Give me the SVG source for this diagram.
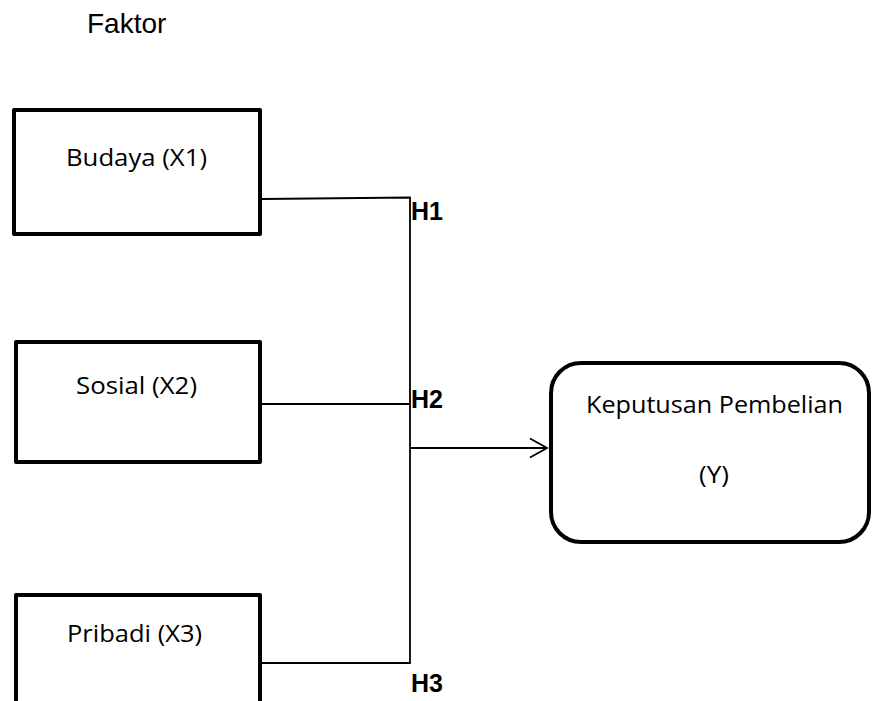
<svg xmlns="http://www.w3.org/2000/svg" width="872" height="701" viewBox="0 0 872 701">
<style>
.box{fill:#fff;stroke:#000;stroke-width:4;stroke-linejoin:round}
.lbl{font-family:"Open Sans","Noto Sans",sans-serif;font-size:23px;fill:#000}
.h{font-family:"Liberation Sans",Arial,sans-serif;font-size:25px;font-weight:bold;fill:#000}
.con{stroke:#000;stroke-width:1.8;fill:none}
</style>
<defs>
<marker id="arr" markerWidth="20" markerHeight="22" refX="18" refY="11" orient="auto" markerUnits="userSpaceOnUse">
<path d="M1,1.5 L18,11 L1,20.5" fill="none" stroke="#000" stroke-width="1.8"/>
</marker>
</defs>
<rect width="872" height="701" fill="#fff"/>
<text x="87" y="33" font-family="Liberation Sans, Arial, sans-serif" font-size="28" fill="#000">Faktor</text>
<g id="connectors">
<polyline class="con" points="262,199 410,197.5 410,664"/>
<line class="con" x1="262" y1="404" x2="410" y2="404"/>
<line class="con" x1="262" y1="663" x2="410" y2="663"/>
<line class="con" x1="410" y1="448" x2="547" y2="448" marker-end="url(#arr)"/>
</g>
<g id="budaya">
<rect class="box" x="14" y="110" width="246" height="124"/>
<text class="lbl" x="66" y="166" textLength="141" lengthAdjust="spacingAndGlyphs">Budaya (X1)</text>
</g>
<g id="sosial">
<rect class="box" x="16" y="342" width="244" height="120"/>
<text class="lbl" x="76" y="394" textLength="121" lengthAdjust="spacingAndGlyphs">Sosial (X2)</text>
</g>
<g id="pribadi">
<rect class="box" x="16" y="595" width="244" height="130"/>
<text class="lbl" x="67" y="642" textLength="135" lengthAdjust="spacingAndGlyphs">Pribadi (X3)</text>
</g>
<g id="keputusan">
<rect class="box" x="551" y="363" width="318" height="179" rx="30" ry="30"/>
<text class="lbl" x="586" y="413" textLength="257" lengthAdjust="spacingAndGlyphs">Keputusan Pembelian</text>
<text class="lbl" x="699" y="483" textLength="30" lengthAdjust="spacingAndGlyphs">(Y)</text>
</g>
<g id="labels">
<text class="h" x="411" y="220">H1</text>
<text class="h" x="411" y="408">H2</text>
<text class="h" x="411" y="692">H3</text>
</g>
</svg>
